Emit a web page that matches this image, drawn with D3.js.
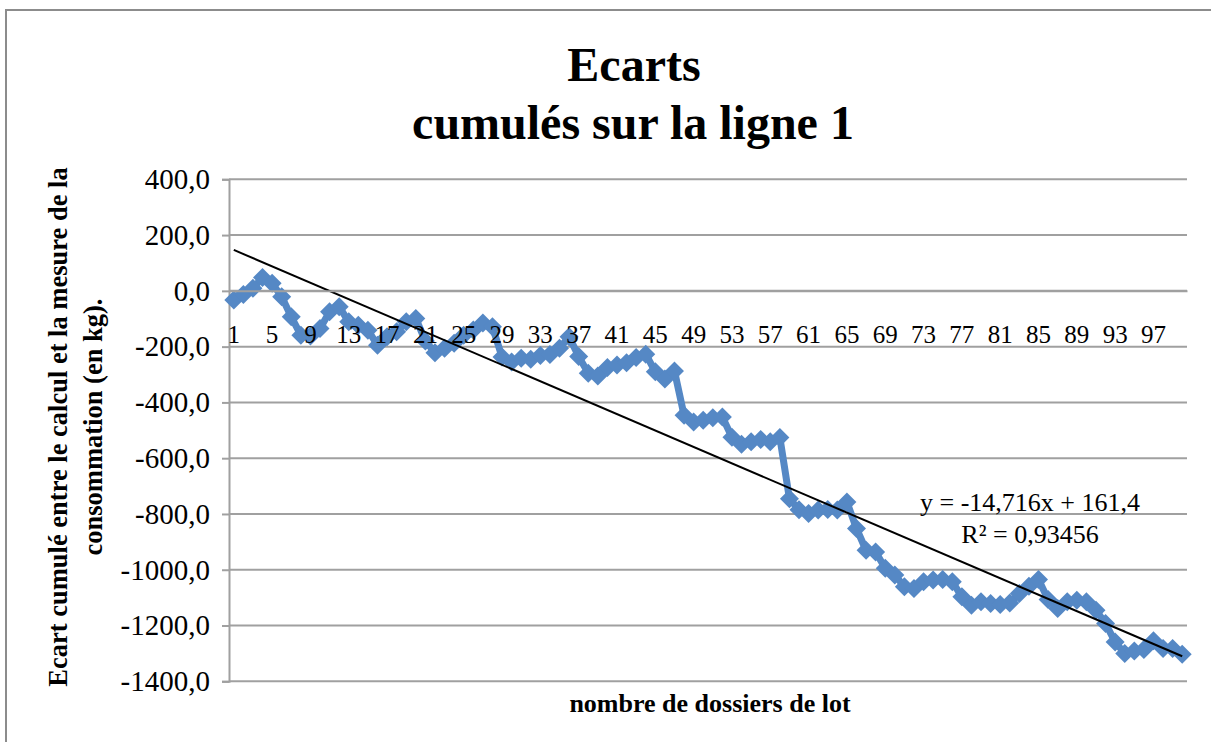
<!DOCTYPE html>
<html>
<head>
<meta charset="utf-8">
<script src="https://cdn.jsdelivr.net/npm/d3@7"></script>
<style>
  html, body { margin: 0; padding: 0; background: #fff; }
  svg { display: block; font-family: "Liberation Serif", "Times New Roman", serif; }
</style>
</head>
<body>
<svg id="chart" width="1211" height="742"></svg>
<script>
// Cumulative gap per batch record (kg), batches 1..100
const batches = d3.range(1, 101);
const cumulativeGap = [
  -33, -13, 9, 48, 27, -21, -93, -159, -162, -135,
  -75, -57, -111, -123, -141, -195, -165, -147, -111, -99,
  -180, -222, -206, -188, -159, -140, -115, -129, -237, -255,
  -242, -245, -232, -228, -206, -165, -235, -295, -305, -275,
  -266, -258, -239, -227, -290, -316, -287, -446, -470, -464,
  -455, -452, -525, -550, -541, -533, -541, -526, -745, -785,
  -798, -786, -784, -786, -757, -852, -930, -936, -995, -1019,
  -1061, -1067, -1043, -1037, -1035, -1043, -1097, -1127, -1115, -1121,
  -1125, -1119, -1085, -1059, -1035, -1107, -1139, -1115, -1109, -1115,
  -1145, -1193, -1259, -1300, -1291, -1286, -1255, -1282, -1282, -1303
];
const yTicks = [400, 200, 0, -200, -400, -600, -800, -1000, -1200, -1400];
const xTickLabels = d3.range(1, 101, 4);
// Linear trend reported on the chart
const trendSlope = -14.716;
const trendIntercept = 161.4;
const trendR2 = 0.93456;

const svg = d3.select("#chart");
const plot = { left: 229, right: 1187, top: 179.3, bottom: 681.3 };
const seriesColor = "#5588C5";
const gridColor = "#A0A0A0";

// Chart frame
svg.append("path")
  .attr("d", "M6,742 L6,10 L1211,10")
  .attr("fill", "none").attr("stroke", "#8C8C8C").attr("stroke-width", 2);

const x = d3.scaleBand().domain(batches).range([plot.left, plot.right]);
const cx = d => x(d) + x.bandwidth() / 2;
const y = d3.scaleLinear().domain([-1400, 400]).range([plot.bottom, plot.top]);

// Horizontal gridlines
svg.append("g").selectAll("line").data(yTicks).join("line")
  .attr("x1", plot.left).attr("x2", plot.right)
  .attr("y1", d => y(d)).attr("y2", d => y(d))
  .attr("stroke", gridColor).attr("stroke-width", 2);

const comma = s => String(s).replace(".", ",").replace("\u2212", "-");
const fmt = v => comma(d3.format(".1f")(v));

// Value axis
const yAxis = svg.append("g").attr("transform", `translate(${plot.left},0)`)
  .call(d3.axisLeft(y).tickValues(yTicks).tickFormat(fmt).tickSize(7).tickPadding(12));
yAxis.select(".domain").attr("stroke", gridColor).attr("stroke-width", 2);
yAxis.selectAll(".tick line").attr("stroke", gridColor).attr("stroke-width", 2);
yAxis.selectAll("text").attr("font-size", 29).attr("fill", "#000")
  .attr("font-family", "Liberation Serif");

// Series line
const line = d3.line().x((d, i) => cx(batches[i])).y(d => y(d));
svg.append("path").datum(cumulativeGap)
  .attr("d", line).attr("fill", "none")
  .attr("stroke", seriesColor).attr("stroke-width", 7).attr("stroke-linejoin", "round");

// Diamond markers
const r = 9.5;
svg.append("g").selectAll("path").data(cumulativeGap).join("path")
  .attr("transform", (d, i) => `translate(${cx(batches[i])},${y(d)})`)
  .attr("d", `M0,${-r} L${r},0 L0,${r} L${-r},0 Z`)
  .attr("fill", seriesColor);

// Linear trendline
const trend = t => trendSlope * t + trendIntercept;
svg.append("line")
  .attr("x1", cx(1)).attr("y1", y(trend(1)))
  .attr("x2", cx(100)).attr("y2", y(trend(100)))
  .attr("stroke", "#000").attr("stroke-width", 2);

// Category axis crossing at zero, labels drawn over the series
const xAxis = svg.append("g").attr("transform", `translate(0,${y(0)})`)
  .call(d3.axisBottom(x).tickValues(xTickLabels).tickSize(0).tickPadding(34));
xAxis.select(".domain").attr("stroke", gridColor).attr("stroke-width", 2);
xAxis.selectAll("text").attr("font-size", 25).attr("fill", "#000")
  .attr("font-family", "Liberation Serif");

// Trend equation
const eq = svg.append("text").attr("text-anchor", "middle").attr("font-size", 26).attr("fill", "#000");
eq.append("tspan").attr("x", 1030).attr("y", 511)
  .text(`y = ${comma(trendSlope)}x + ${comma(trendIntercept)}`);
eq.append("tspan").attr("x", 1030).attr("y", 543)
  .text(`R² = ${comma(trendR2)}`);

// Titles
const title = svg.append("text").attr("text-anchor", "middle")
  .attr("font-size", 48).attr("font-weight", "bold").attr("fill", "#000");
title.append("tspan").attr("x", 634).attr("y", 81).text("Ecarts");
title.append("tspan").attr("x", 633).attr("y", 139).text("cumulés sur la ligne 1");

svg.append("text").attr("x", 710).attr("y", 712).attr("text-anchor", "middle")
  .attr("font-size", 26).attr("font-weight", "bold").attr("fill", "#000")
  .text("nombre de dossiers de lot");

const yTitle = svg.append("text").attr("transform", "translate(0,427) rotate(-90)")
  .attr("text-anchor", "middle").attr("font-size", 26.5).attr("font-weight", "bold").attr("fill", "#000");
yTitle.append("tspan").attr("x", 0).attr("y", 67).text("Ecart cumulé entre le calcul et la mesure de la");
yTitle.append("tspan").attr("x", 0).attr("y", 102).text("consommation (en kg).");
</script>
</body>
</html>
